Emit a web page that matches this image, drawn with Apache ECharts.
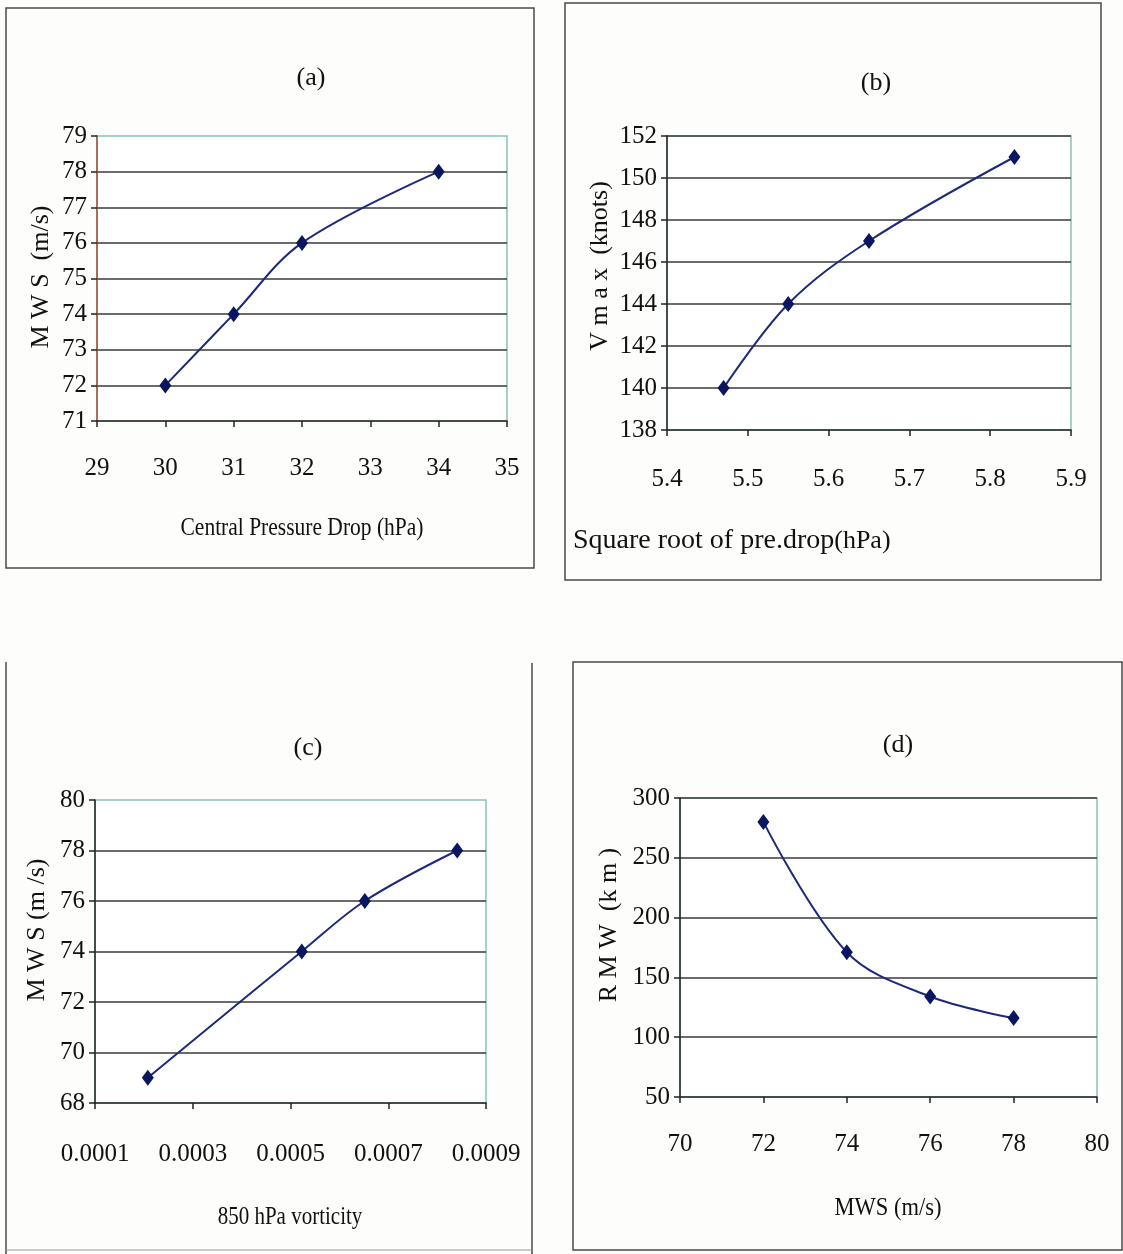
<!DOCTYPE html>
<html>
<head>
<meta charset="utf-8">
<title>Cyclone intensity relations</title>
<script src="https://cdn.jsdelivr.net/npm/echarts@6/dist/echarts.min.js"></script>
<style>
  html, body { margin: 0; padding: 0; background: #fdfdfc; }
  #chart { width: 1123px; height: 1254px; }
</style>
</head>
<body>
<div id="chart"></div>
<script>
// (a) MWS against central pressure drop
const pressureDrop = [30, 31, 32, 34];
const mwsA = [72, 74, 76, 78];
// (b) Vmax against square root of pressure drop
const sqrtPressureDrop = [5.47, 5.55, 5.65, 5.83];
const vmaxKnots = [140, 144, 147, 151];
// (c) MWS against 850 hPa vorticity
const vorticity850 = [0.000208, 0.000523, 0.000652, 0.000841];
const mwsC = [69, 74, 76, 78];
// (d) RMW against MWS
const mwsD = [72, 74, 76, 78];
const rmwKm = [280, 171, 134, 116];

// axis ranges: [min, max, interval]
const xRangeA = [29, 35, 1],        yRangeA = [71, 79, 1];
const xRangeB = [5.4, 5.9, 0.1],    yRangeB = [138, 152, 2];
const xRangeC = [0.0001, 0.0009, 0.0002], yRangeC = [68, 80, 2];
const xRangeD = [70, 80, 2],        yRangeD = [50, 300, 50];

const panelTitles = ['(a)', '(b)', '(c)', '(d)'];
const xNames = ['Central Pressure Drop (hPa)', 'Square root of pre.drop', '850 hPa vorticity', 'MWS (m/s)'];
const yNames = ['M W S  (m/s)', 'V m a x  (knots)', 'M W S (m /s)', 'R M W  (k m )'];

const SERIF = '"Liberation Serif", "DejaVu Serif", serif';
const INK = '#111';
const LINE = '#1e2a78';
const MARK = '#0b1660';
const GRIDLINE = '#3a3a3a';
const FRAME = '#86c3b3';

const grids = [
  { left: 97,  top: 136, width: 410, height: 285 },
  { left: 667, top: 136, width: 404, height: 294 },
  { left: 95,  top: 800, width: 391, height: 303 },
  { left: 680, top: 798, width: 417, height: 299 }
].map(g => Object.assign({
  show: true, backgroundColor: '#fff', borderColor: FRAME, borderWidth: 1.5
}, g));

function xAxis(idx, range, digits, labelMargin) {
  return {
    type: 'value', gridIndex: idx, min: range[0], max: range[1], interval: range[2],
    axisLine: { show: true, onZero: false, lineStyle: { color: '#222', width: 1.5 } },
    axisTick: { show: true, inside: false, length: 6, lineStyle: { color: '#222', width: 1.5 } },
    axisLabel: { margin: labelMargin, color: INK, fontFamily: SERIF, fontSize: 25,
                 formatter: v => Number(v).toFixed(digits) },
    splitLine: { show: false }
  };
}

function yAxis(idx, range, axisColor, showMax) {
  return {
    type: 'value', gridIndex: idx, min: range[0], max: range[1], interval: range[2],
    axisLine: { show: true, onZero: false, lineStyle: { color: axisColor, width: 1.5 } },
    axisTick: { show: true, inside: false, length: 6, lineStyle: { color: '#222', width: 1.5 } },
    axisLabel: { margin: 10, color: INK, fontFamily: SERIF, fontSize: 25 },
    splitLine: { show: true, showMinLine: false, showMaxLine: showMax,
                 lineStyle: { color: GRIDLINE, width: 1.5 } }
  };
}

function lineSeries(idx, xs, ys) {
  return {
    type: 'line', xAxisIndex: idx, yAxisIndex: idx,
    data: xs.map((x, i) => [x, ys[i]]),
    smooth: 0.35,
    symbol: 'diamond', symbolSize: [12, 16],
    itemStyle: { color: MARK },
    lineStyle: { color: LINE, width: 2 },
    z: 5
  };
}

// horizontal axis title, slightly condensed like the serif face of the plots
function xTitle(text, cx, cy, size, squeeze) {
  return {
    type: 'text', x: cx, y: cy, scaleX: squeeze, silent: true,
    style: { text: text, fontFamily: SERIF, fontSize: size, fill: INK,
             align: 'center', verticalAlign: 'middle' }
  };
}

// vertical axis title, reading bottom to top
function yTitle(text, cx, cy, size) {
  return {
    type: 'text', x: cx, y: cy, rotation: Math.PI / 2, silent: true,
    style: { text: text, fontFamily: SERIF, fontSize: size, fill: INK,
             align: 'center', verticalAlign: 'middle' }
  };
}

const frameStyle = { fill: 'none', stroke: '#4a4a4a', lineWidth: 1.5 };
const graphics = [
  // panel frames
  { type: 'rect', shape: { x: 6,   y: 8,   width: 528, height: 560 }, style: frameStyle, silent: true },
  { type: 'rect', shape: { x: 565, y: 3,   width: 536, height: 577 }, style: frameStyle, silent: true },
  { type: 'line', shape: { x1: 6,   y1: 662, x2: 6,   y2: 1254 }, style: { stroke: '#4a4a4a', lineWidth: 1.5 }, silent: true },
  { type: 'line', shape: { x1: 532, y1: 663, x2: 532, y2: 1254 }, style: { stroke: '#4a4a4a', lineWidth: 1.5 }, silent: true },
  { type: 'line', shape: { x1: 6,   y1: 1250, x2: 532, y2: 1250 }, style: { stroke: '#9a9a9a', lineWidth: 1 }, silent: true },
  { type: 'rect', shape: { x: 573, y: 662, width: 549, height: 588 }, style: frameStyle, silent: true },

  // axis titles
  xTitle(xNames[0], 302, 528, 25, 0.86),
  {
    type: 'text', x: 573, y: 541, silent: true,
    style: {
      text: '{a|' + xNames[1] + '}{b|(hPa)}',
      verticalAlign: 'middle',
      rich: {
        a: { fontFamily: SERIF, fontSize: 28, fill: INK },
        b: { fontFamily: SERIF, fontSize: 26, fill: INK }
      }
    }
  },
  xTitle(xNames[2], 290, 1217, 25, 0.84),
  xTitle(xNames[3], 888, 1208, 25, 0.9),

  yTitle(yNames[0], 41, 277, 26),
  yTitle(yNames[1], 600, 266, 26),
  yTitle(yNames[2], 37, 930, 26),
  yTitle(yNames[3], 609, 925, 26)
];

const titles = [
  { text: panelTitles[0], left: 311, top: 65 },
  { text: panelTitles[1], left: 876, top: 70 },
  { text: panelTitles[2], left: 308, top: 735 },
  { text: panelTitles[3], left: 898, top: 732 }
].map(t => ({
  text: t.text, left: t.left, top: t.top, textAlign: 'center', padding: 0,
  textStyle: { color: INK, fontFamily: SERIF, fontSize: 26, fontWeight: 'normal' }
}));

const chart = echarts.init(document.getElementById('chart'), null, { renderer: 'canvas' });
chart.setOption({
  backgroundColor: '#fdfdfc',
  animation: false,
  title: titles,
  grid: grids,
  xAxis: [
    xAxis(0, xRangeA, 0, 35),
    xAxis(1, xRangeB, 1, 37),
    xAxis(2, xRangeC, 4, 39),
    xAxis(3, xRangeD, 0, 35)
  ],
  yAxis: [
    yAxis(0, yRangeA, '#b04a35', false),
    yAxis(1, yRangeB, '#222', true),
    yAxis(2, yRangeC, '#222', false),
    yAxis(3, yRangeD, '#222', true)
  ],
  series: [
    lineSeries(0, pressureDrop, mwsA),
    lineSeries(1, sqrtPressureDrop, vmaxKnots),
    lineSeries(2, vorticity850, mwsC),
    lineSeries(3, mwsD, rmwKm)
  ],
  graphic: graphics
});
</script>
</body>
</html>
